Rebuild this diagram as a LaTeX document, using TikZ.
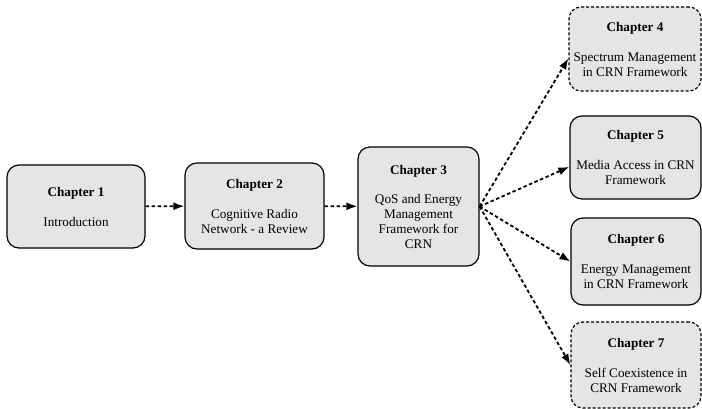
\documentclass[tikz,border=0pt]{standalone}
\usepackage{fontspec}
\setmainfont{Liberation Serif}
\usetikzlibrary{arrows.meta}

\begin{document}
\begin{tikzpicture}[x=1pt,y=-1pt]
\useasboundingbox (0,0) rectangle (702,409);
\begin{scope}[every node/.style={draw, line width=1.2pt, rounded corners=12pt, fill=black!10, align=center, inner sep=2pt, font=\fontsize{13.2}{15}\selectfont}]
\node[minimum width=138pt, minimum height=83pt] (ch-1) at (76,206.5) {\textbf{Chapter 1}\\[15pt]Introduction};
\node[minimum width=139pt, minimum height=86pt] (ch-2) at (254.5,206) {\textbf{Chapter 2}\\[15pt]Cognitive Radio\\Network - a Review};
\node[minimum width=121pt, minimum height=119pt] (ch-3) at (418.5,206.5) {\textbf{Chapter 3}\\[14pt]QoS and Energy\\Management\\Framework for\\CRN};
\node[minimum width=131pt, minimum height=83pt] (ch-5) at (635.5,157.5) {\textbf{Chapter 5}\\[15pt]Media Access in CRN\\Framework};
\node[minimum width=130pt, minimum height=87pt] (ch-6) at (636,261.5) {\textbf{Chapter 6}\\[15pt]Energy Management\\in CRN Framework};
\end{scope}\begin{scope}[every node/.style={draw, line width=1.2pt, dash pattern=on 3pt off 2pt, rounded corners=12pt, fill=black!10, align=center, inner sep=2pt, font=\fontsize{13.2}{15}\selectfont}]
\node[minimum width=132pt, minimum height=84pt] (ch-4) at (635,49) {\textbf{Chapter 4}\\[15pt]Spectrum Management\\in CRN Framework};
\node[minimum width=130pt, minimum height=86pt] (ch-7) at (636,365) {\textbf{Chapter 7}\\[15pt]Self Coexistence in\\CRN Framework};
\end{scope}
\begin{scope}[>={Latex[length=11pt,width=8pt]}, every edge/.style={draw=black, line width=1.8pt, dash pattern=on 3.5pt off 2.5pt}]
\path [->] (ch-1) edge (ch-2);
\path [->] (ch-2) edge (ch-3);
\path [->] (ch-3.east) edge (ch-4.188);
\path [->] (ch-3.east) edge (ch-5.188);
\path [->] (ch-3.east) edge (ch-6.west);
\path [->] (ch-3.east) edge (ch-7.west);
\end{scope}
\end{tikzpicture}
\end{document}
